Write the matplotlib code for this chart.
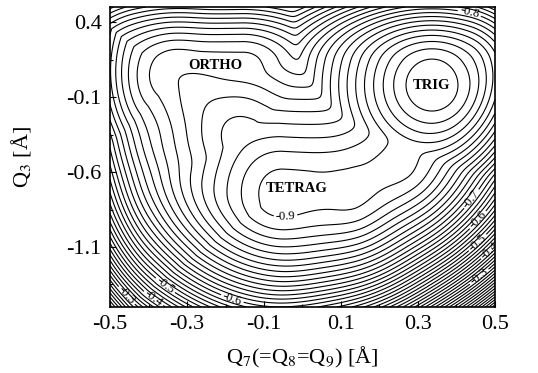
import numpy as np
import matplotlib
matplotlib.use("Agg")
from matplotlib import pyplot as plt

plt.rcParams['font.family'] = ['Liberation Serif', 'DejaVu Serif']
plt.rcParams['mathtext.fontset'] = 'stix'

# energy surface model, distances measured in plot pixels
px_per_x = 385.0
px_per_y = 150.0

# valley floor running ORTHO -> TETRAG -> TRIG
valley_x = [-0.1545, -0.3234, -0.1623, -0.0532, 0.1234, 0.2532, 0.3364]
valley_y = [0.0800, 0.0467, -0.3533, -0.7333, -0.7200, -0.5533, -0.0200]
valley_e = [-0.790, -0.795, -0.845, -0.910, -0.905, -0.905, -0.905]
valley_slope = [0.0022, 0.0020, 0.0018, 0.0018, 0.0018, 0.0018]
valley_core = 40.0

# trigonal minimum
trig_x, trig_y, trig_e = 0.3364, -0.020, -1.00
trig_slope = 0.0026
trig_core = 40.0

# outer walls
bot_x, bot_y, bot_r0, bot_k = -0.0065, 0.28, 170.0, 1.7e-5
rb_x, rb_y, rb_k = 0.2532, -0.453, 7e-6
left_x, left_k = -0.396, 2.0e-5
top_y, top_k = 0.15, 0.7
soft_t = 0.006

levels = np.round(np.arange(-50, 0) * 0.02, 2)
label_levels = [-0.9, -0.8, -0.7, -0.6, -0.5, -0.4, -0.3]
label_pos = [(-0.045, -0.873), (0.43, 0.42), (0.443, -0.787),
             (0.456, -0.92), (0.461, -1.087), (0.485, -1.12), (0.466, -1.32),
             (-0.175, -1.387), (-0.352, -1.34), (-0.375, -1.40), (-0.461, -1.433)]

site_x = [-0.227, 0.336, -0.014]
site_y = [0.113, -0.020, -0.707]
site_text = ["ORTHO", "TRIG", "TETRAG"]

x = np.linspace(-0.5, 0.5, 500)
y = np.linspace(-1.5, 0.5, 800)
X, Y = np.meshgrid(x, y)
PX, PY = X * px_per_x, Y * px_per_y


def cone(d, slope, core):
    return slope * (np.sqrt(d ** 2 + core ** 2) - core)


parts = []
for i in range(len(valley_x) - 1):
    x0, y0 = valley_x[i] * px_per_x, valley_y[i] * px_per_y
    x1, y1 = valley_x[i + 1] * px_per_x, valley_y[i + 1] * px_per_y
    dx, dy = x1 - x0, y1 - y0
    t = np.clip(((PX - x0) * dx + (PY - y0) * dy) / (dx * dx + dy * dy), 0, 1)
    d = np.hypot(PX - (x0 + t * dx), PY - (y0 + t * dy))
    base = valley_e[i] + t * (valley_e[i + 1] - valley_e[i])
    parts.append(base + cone(d, valley_slope[i], valley_core))

d_trig = np.hypot(PX - trig_x * px_per_x, PY - trig_y * px_per_y)
parts.append(trig_e + cone(d_trig, trig_slope, trig_core))

parts = np.array(parts)
m = parts.min(axis=0)
E = m - soft_t * np.log(np.exp(-(parts - m) / soft_t).sum(axis=0))

R = np.hypot(PX - bot_x * px_per_x, PY - bot_y * px_per_y)
E += bot_k * np.clip(R - bot_r0, 0, None) ** 2
u = ((X - rb_x) * px_per_x - (Y - rb_y) * px_per_y) / np.sqrt(2)
E += rb_k * np.clip(u, 0, None) ** 2
w_left = left_k * (np.clip(left_x - X, 0, None) * px_per_x) ** 2
w_top = top_k * np.clip(Y - top_y, 0, None) ** 2
E += np.maximum(w_left, w_top)

fig = plt.figure(figsize=(5.38, 3.73), dpi=100)
ax = fig.add_axes([0.2045, 0.177, 0.7155, 0.804])

is_lab = np.isclose(levels[:, None], label_levels).any(axis=1)
ax.contour(X, Y, E, levels=levels[~is_lab], colors='black', linewidths=0.8,
           linestyles='solid')
cs = ax.contour(X, Y, E, levels=levels[is_lab], colors='black',
                linewidths=0.8, linestyles='solid')
ax.clabel(cs, manual=label_pos, inline=True, fmt='%.1f', fontsize=9,
          inline_spacing=2)

for tx, ty, t in zip(site_x, site_y, site_text):
    ax.text(tx, ty, t, ha='center', va='center', fontsize=10.5,
            fontweight='bold', bbox=dict(fc='white', ec='none', pad=0.5))

ax.set_xlim(-0.5, 0.5)
ax.set_ylim(-1.5, 0.5)
ax.set_xticks([-0.5, -0.3, -0.1, 0.1, 0.3, 0.5])
ax.set_xticks([-0.4, -0.2, 0.0, 0.2, 0.4], minor=True)
ax.set_yticks([0.4, -0.1, -0.6, -1.1])
ax.set_yticks([0.15, -0.35, -0.85, -1.35], minor=True)
ax.set_xticklabels(['-0.5', '-0.3', '-0.1', '0.1', '0.3', '0.5'])
ax.set_yticklabels(['0.4', '-0.1', '-0.6', '-1.1'])
ax.tick_params(direction='in', labelsize=16, length=4, width=0.8, pad=6)
ax.tick_params(which='minor', direction='in', length=2, width=0.8)
for s in ax.spines.values():
    s.set_linewidth(1.2)

ax.set_xlabel(r'Q$_{\mathrm{7}}$(=Q$_{\mathrm{8}}$=Q$_{\mathrm{9}}$) [Å]', fontsize=16, labelpad=8)
ax.set_ylabel(r'Q$_{\mathrm{3}}$ [Å]', fontsize=16, labelpad=24)

fig.savefig('out.png', dpi=100)
